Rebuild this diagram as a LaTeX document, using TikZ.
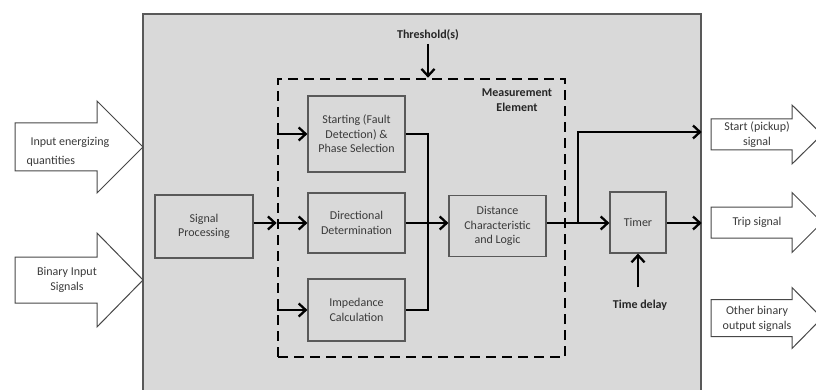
\documentclass[tikz,border=0pt]{standalone}
\usepackage{fontspec}
\setmainfont{Carlito}
\usetikzlibrary{arrows.meta}
\definecolor{panelgray}{HTML}{D9D9D9}
\definecolor{edgegray}{HTML}{595959}
\definecolor{txtgray}{HTML}{3A3A3A}
\tikzset{
  blk/.style={draw=edgegray, line width=1.2pt, fill=panelgray, align=center,
    text=txtgray, font=\fontsize{12}{14.5}\selectfont, inner sep=2pt},
  lbl/.style={align=center, text=black!85, font=\fontsize{12}{14.5}\selectfont\bfseries},
  arrtxt/.style={align=center, text=txtgray, font=\fontsize{12}{14.5}\selectfont},
  wire/.style={line width=2.3pt, black},
  conn/.style={wire, -{Straight Barb[length=7pt,width=13pt]}},
  bigarrow/.style={draw=edgegray!80!black, line width=1pt, fill=white, line join=miter}
}
% block arrow: tail x, head base x, tip x, centre y, shaft half height, head half height
\newcommand\blockarrow[6]{%
  \draw[bigarrow] (#1,#4-#5) -- (#2,#4-#5) -- (#2,#4-#6) -- (#3,#4)
    -- (#2,#4+#6) -- (#2,#4+#5) -- (#1,#4+#5) -- cycle;}
\begin{document}
\begin{tikzpicture}[x=1pt,y=-1pt]
\useasboundingbox (0,0) rectangle (816,390);
\clip (0,0) rectangle (816,390);

% relay panel
\node[draw=edgegray, line width=1.4pt, fill=panelgray, minimum width=558pt,
  minimum height=400pt, inner sep=0pt] (panel) at (422,214) {};

% measurement element (dashed frame)
\node[draw, dash pattern=on 10pt off 6pt, line width=2.7pt, minimum width=287pt,
  minimum height=278pt, inner sep=0pt] (meas) at (421.5,218) {};
\node[lbl] (measlbl) at (517,100) {Measurement\\Element};

% blocks
\node[blk, minimum width=98pt, minimum height=63pt] (sp) at (204,226.5) {Signal\\Processing};
\node[blk, minimum width=97pt, minimum height=76pt] (start) at (356.5,134) {Starting (Fault\\Detection) \&\\Phase Selection};
\node[blk, minimum width=97pt, minimum height=60pt] (dir) at (356.5,223) {Directional\\Determination};
\node[blk, minimum width=97pt, minimum height=62pt] (imp) at (356.5,310) {Impedance\\Calculation};
\node[blk, minimum width=97pt, minimum height=61pt] (dist) at (497.5,226) {Distance\\Characteristic\\and Logic};
\node[blk, minimum width=56pt, minimum height=61pt] (timer) at (638,222.5) {Timer};

% external labels
\node[lbl] (thr) at (428,35) {Threshold(s)};
\node[lbl] (td) at (640,305) {Time delay};

% connectors
\coordinate (bus) at (428,0);
\coordinate (split) at (578,223);
\draw[conn] (sp.east|-dir.west) -- (meas.west|-dir.west);
\draw[conn] (meas.west|-start.west) -- (start.west);
\draw[conn] (meas.west|-dir.west) -- (dir.west);
\draw[conn] (meas.west|-imp.west) -- (imp.west);
\draw[wire] (start.east) -| (imp.east-|bus) -- (imp.east);
\draw[conn] (dir.east) -- (dist.west|-dir.east);
\draw[wire] (dist.east|-split) -- (split);
\draw[conn] (split) |- (panel.east|-0,132);
\draw[conn] (split) -- (timer.west|-split);
\draw[conn] (timer.east|-split) -- (panel.east|-split);
\draw[conn] (thr.south) -- (thr.south|-meas.north);
\draw[conn] ([yshift=9pt]td.north-|timer.south) -- (timer.south);

% input block arrows
\blockarrow{15}{97}{143}{147}{24}{46}
\node[arrtxt, align=left, anchor=west] (inq) at (23,152) {\hspace{4pt}Input energizing\\[4pt]quantities};
\blockarrow{15}{97}{143}{280}{23}{47}
\node[arrtxt] (bin) at (67,280) {Binary Input\\Signals};

% output block arrows
\blockarrow{711}{792}{822}{134.5}{15.5}{29.5}
\node[arrtxt] (startsig) at (757,134.5) {Start (pickup)\\signal};
\blockarrow{711}{792}{822}{222.5}{15.5}{30}
\node[arrtxt] (trip) at (757,222.5) {Trip signal};
\blockarrow{711}{792}{822}{318}{18.5}{30.5}
\node[arrtxt] (other) at (757,319) {Other binary\\output signals};
\end{tikzpicture}
\end{document}
